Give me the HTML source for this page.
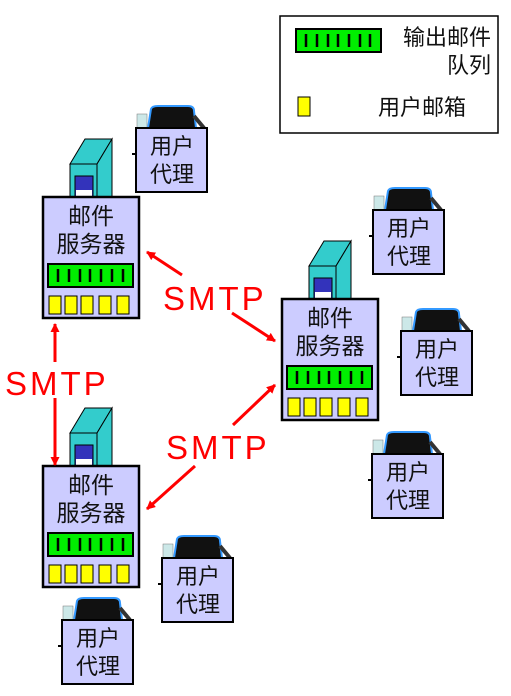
<!DOCTYPE html>
<html><head><meta charset="utf-8"><style>
html,body{margin:0;padding:0;background:#fff;}
svg{display:block;}
text{font-family:"Liberation Sans","Noto Sans CJK SC",sans-serif;}
</style></head><body>
<svg width="511" height="696" viewBox="0 0 511 696" xmlns="http://www.w3.org/2000/svg">
<defs>
<marker id="ah" markerWidth="9" markerHeight="9" refX="8" refY="4.5" orient="auto" markerUnits="userSpaceOnUse">
<path d="M0,0 L9,4.5 L0,9 z" fill="#f00"/></marker>
<g id="srv">
  <polygon points="27,-33 42,-58 69,-58 54,-33" fill="#33cccc" stroke="#000" stroke-width="1"/>
  <polygon points="54,-33 69,-58 69,0 54,0" fill="#33cccc" stroke="#000" stroke-width="1"/>
  <rect x="27" y="-33" width="27" height="33" fill="#33cccc" stroke="#000" stroke-width="1"/>
  <rect x="32" y="-21" width="18" height="21" fill="#3333bb" stroke="#000"/>
  <rect x="33" y="-7" width="16" height="7" fill="#fff"/>
  <rect x="0" y="0" width="96" height="121" fill="#ccccff" stroke="#000" stroke-width="2.5"/>
  <text x="48" y="27" font-size="23" text-anchor="middle" fill="#111">邮件</text>
  <text x="48" y="55" font-size="23" text-anchor="middle" fill="#111">服务器</text>
  <rect x="5" y="67" width="85" height="23" fill="#00ee00" stroke="#000" stroke-width="2"/>
  <g stroke="#000" stroke-width="2.5">
    <line x1="15" y1="72" x2="15" y2="85"/><line x1="26" y1="72" x2="26" y2="85"/><line x1="37" y1="72" x2="37" y2="85"/><line x1="47" y1="72" x2="47" y2="85"/><line x1="58" y1="72" x2="58" y2="85"/><line x1="69" y1="72" x2="69" y2="85"/><line x1="80" y1="72" x2="80" y2="85"/>
  </g>
  <g fill="#ffff00" stroke="#000" stroke-width="1">
    <rect x="6" y="99" width="12" height="18"/><rect x="22" y="99" width="12" height="18"/><rect x="38" y="99" width="12" height="18"/><rect x="56" y="99" width="12" height="18"/><rect x="74" y="99" width="12" height="18"/>
  </g>
</g>
<g id="ua">
  <rect x="1" y="-14" width="10" height="14" fill="#cce8e8" stroke="#777" stroke-width="0.5"/>
  <path d="M12,0 L15,-19 Q16,-22 22,-22 L52,-22 Q58,-22 58,-17 L60,0 z" fill="#111" stroke="#3399ff" stroke-width="2"/>
  <path d="M58,-12 L68,0" stroke="#333" stroke-width="4"/>
  <line x1="-4" y1="26" x2="0" y2="26" stroke="#000" stroke-width="2"/>
  <rect x="0" y="0" width="71" height="64" fill="#ccccff" stroke="#000" stroke-width="2"/>
  <text x="36" y="26" font-size="22" text-anchor="middle" fill="#111">用户</text>
  <text x="36" y="54" font-size="22" text-anchor="middle" fill="#111">代理</text>
</g>
</defs>

<rect x="280" y="16" width="218" height="117" fill="#fff" stroke="#000" stroke-width="1.5"/>
<rect x="296" y="29" width="85" height="23" fill="#00ee00" stroke="#000" stroke-width="2"/>
<g stroke="#000" stroke-width="2.5">
<line x1="306" y1="34" x2="306" y2="47"/><line x1="317" y1="34" x2="317" y2="47"/><line x1="328" y1="34" x2="328" y2="47"/><line x1="338" y1="34" x2="338" y2="47"/><line x1="349" y1="34" x2="349" y2="47"/><line x1="360" y1="34" x2="360" y2="47"/><line x1="370" y1="34" x2="370" y2="47"/>
</g>
<text x="491" y="45" font-size="22" text-anchor="end" fill="#111">输出邮件</text>
<text x="491" y="73" font-size="22" text-anchor="end" fill="#111">队列</text>
<rect x="298" y="97" width="12" height="19" fill="#ffff00" stroke="#000"/>
<text x="466" y="115" font-size="22" text-anchor="end" fill="#111">用户邮箱</text>

<use href="#srv" x="43" y="197"/>
<use href="#srv" x="282" y="299"/>
<use href="#srv" x="43" y="466"/>

<use href="#ua" x="136" y="128"/>
<use href="#ua" x="373" y="210"/>
<use href="#ua" x="401" y="331"/>
<use href="#ua" x="372" y="454"/>
<use href="#ua" x="162" y="558"/>
<use href="#ua" x="62" y="620"/>

<g stroke="#f00" stroke-width="3" fill="none">
<line x1="182" y1="275" x2="147" y2="252" marker-end="url(#ah)"/>
<line x1="232" y1="313" x2="275" y2="341" marker-end="url(#ah)"/>
<line x1="55" y1="362" x2="55" y2="324" marker-end="url(#ah)"/>
<line x1="55" y1="398" x2="55" y2="465" marker-end="url(#ah)"/>
<line x1="233" y1="425" x2="275" y2="385" marker-end="url(#ah)"/>
<line x1="195" y1="466" x2="147" y2="509" marker-end="url(#ah)"/>
</g>
<g fill="#f00" font-size="33" letter-spacing="3" font-family="Liberation Sans, sans-serif">
<text x="163" y="310">SMTP</text>
<text x="5" y="395">SMTP</text>
<text x="166" y="459">SMTP</text>
</g>
</svg>
</body></html>
